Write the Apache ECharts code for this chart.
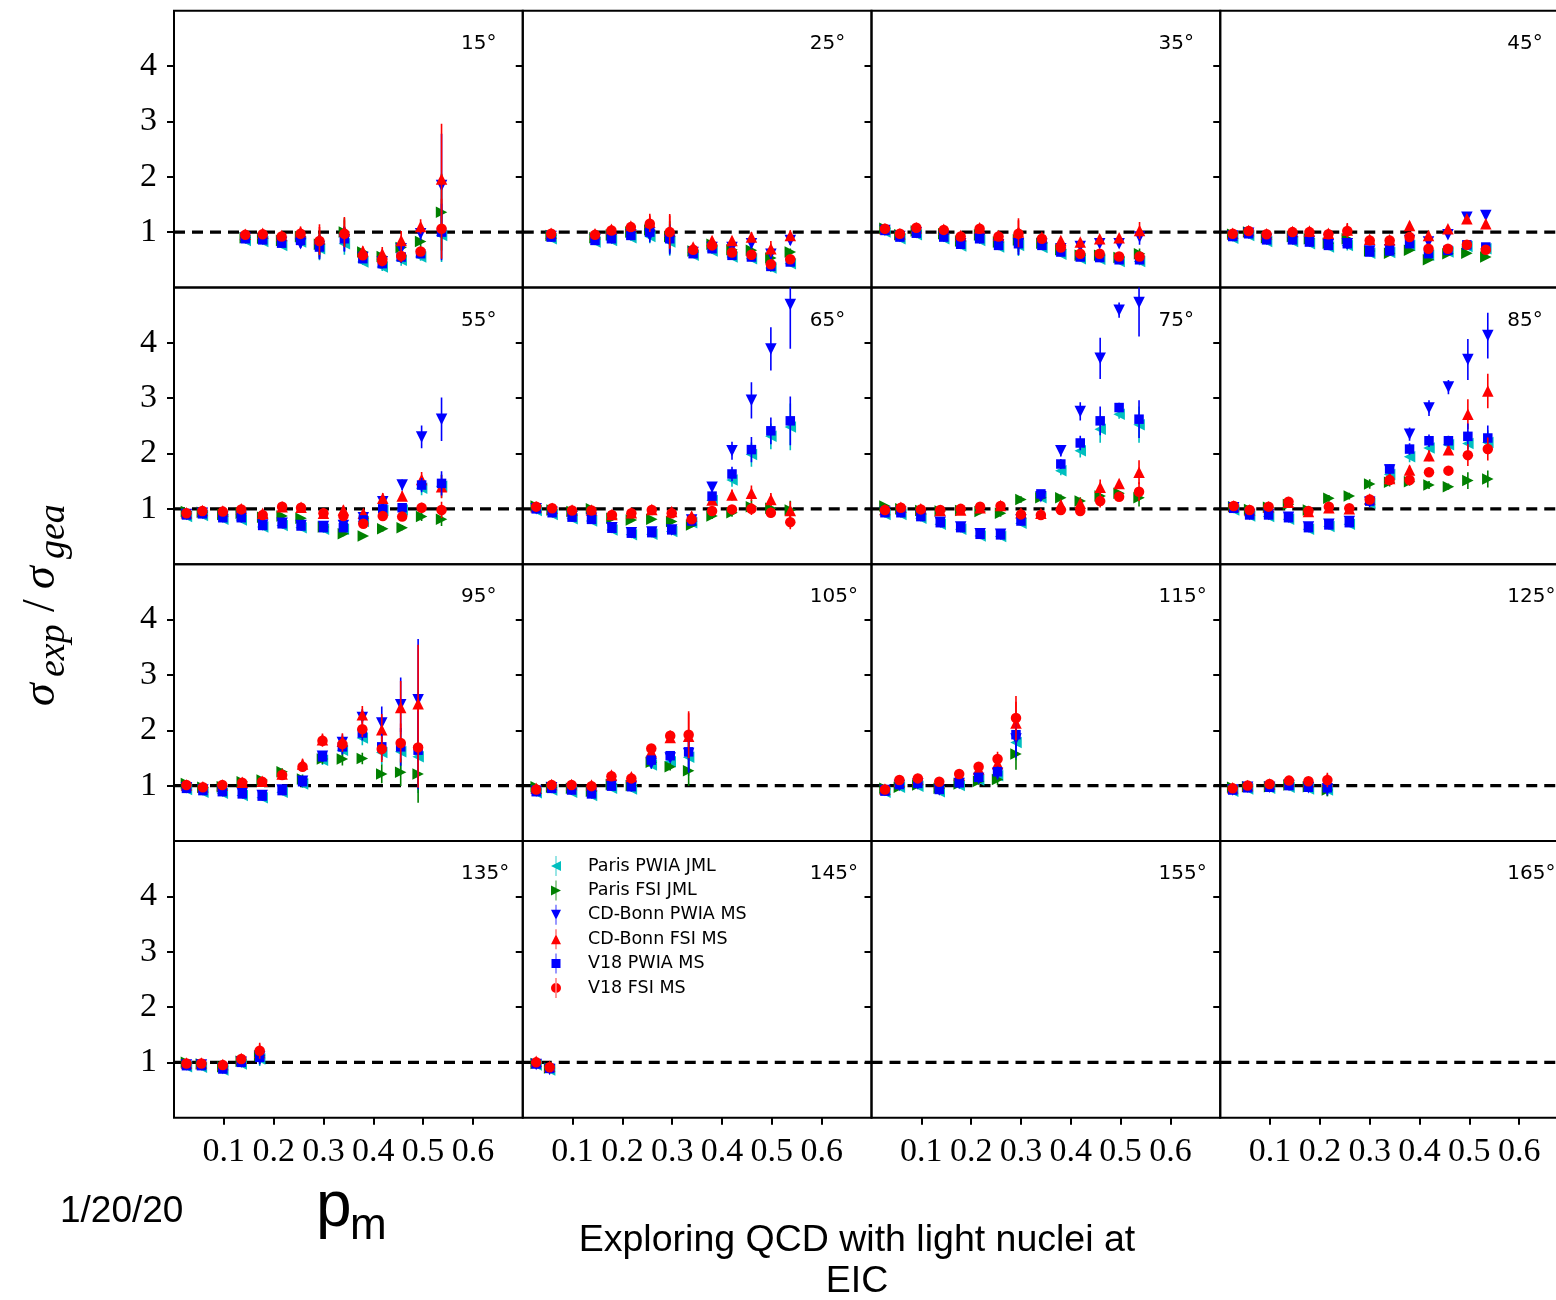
<!DOCTYPE html>
<html><head><meta charset="utf-8">
<script src="https://cdn.jsdelivr.net/npm/echarts@6/dist/echarts.min.js"></script>
<style>html,body{margin:0;padding:0;background:#fff}#c{width:1556px;height:1300px}</style>
</head><body><div id="c"></div>
<script>
// ---------------- DATA ----------------
const ANGLES = ['15°','25°','35°','45°','55°','65°','75°','85°','95°','105°','115°','125°','135°','145°','155°','165°'];
const X_TICKS = [0.1, 0.2, 0.3, 0.4, 0.5, 0.6];
const Y_TICKS = [1, 2, 3, 4];

// missing momentum p_m per panel
const PM = [
  [0.143,0.178,0.216,0.254,0.292,0.342,0.379,0.418,0.456,0.495,0.537],
  [0.057,0.145,0.178,0.217,0.255,0.295,0.342,0.380,0.420,0.459,0.498,0.537],
  [0.027,0.057,0.090,0.145,0.179,0.217,0.255,0.295,0.342,0.380,0.419,0.458,0.497,0.538],
  [0.025,0.057,0.093,0.145,0.179,0.217,0.255,0.300,0.340,0.380,0.418,0.457,0.495,0.533],
  [0.025,0.057,0.098,0.135,0.178,0.217,0.255,0.300,0.340,0.380,0.419,0.458,0.497,0.537],
  [0.027,0.059,0.099,0.138,0.179,0.218,0.259,0.299,0.339,0.380,0.420,0.459,0.498,0.537],
  [0.027,0.059,0.099,0.138,0.179,0.218,0.259,0.300,0.340,0.380,0.419,0.459,0.497,0.537],
  [0.027,0.059,0.097,0.137,0.177,0.218,0.259,0.300,0.340,0.380,0.419,0.458,0.497,0.537],
  [0.025,0.058,0.097,0.137,0.177,0.217,0.258,0.298,0.338,0.378,0.417,0.455,0.490],
  [0.027,0.058,0.098,0.138,0.178,0.218,0.258,0.296,0.333],
  [0.027,0.056,0.093,0.136,0.176,0.215,0.253,0.290],
  [0.025,0.055,0.099,0.138,0.177,0.215],
  [0.025,0.055,0.098,0.135,0.172],
  [0.027,0.054],
  [],
  []
];

const PARIS_PWIA = [
  [0.85,0.83,0.76,0.82,0.70,0.79,0.46,0.37,0.49,0.55,0.94],
  [0.88,0.82,0.85,0.90,0.92,0.82,0.58,0.66,0.55,0.52,0.35,0.43],
  [1.00,0.88,0.95,0.88,0.75,0.85,0.73,0.76,0.72,0.60,0.52,0.51,0.47,0.47],
  [0.89,0.94,0.83,0.83,0.79,0.73,0.76,0.62,0.63,0.76,0.58,0.64,0.74,0.70],
  [0.86,0.88,0.81,0.80,0.67,0.70,0.66,0.63,0.63,0.77,0.97,0.98,1.37,1.41],
  [0.97,0.90,0.82,0.78,0.62,0.53,0.54,0.59,0.75,1.15,1.52,1.98,2.31,2.48],
  [0.90,0.90,0.83,0.72,0.63,0.51,0.50,0.74,1.20,1.69,2.05,2.44,2.71,2.52],
  [0.98,0.87,0.86,0.81,0.63,0.68,0.72,1.10,1.62,1.94,2.10,2.16,2.18,2.20],
  [0.93,0.88,0.86,0.82,0.78,0.88,1.03,1.46,1.64,1.86,1.60,1.61,1.52],
  [0.87,0.92,0.88,0.82,0.95,0.94,1.37,1.43,1.51],
  [0.88,0.97,0.99,0.89,1.00,1.10,1.18,1.78],
  [0.90,0.94,0.95,0.97,0.94,0.92],
  [0.92,0.91,0.86,0.97,1.06],
  [0.95,0.86],
  [],
  []
];

const PARIS_FSI = [
  [0.90,0.89,0.85,0.92,0.78,1.00,0.64,0.56,0.72,0.83,1.36],
  [0.94,0.90,0.95,1.00,1.04,0.92,0.66,0.78,0.68,0.67,0.53,0.64],
  [1.07,0.95,1.02,0.97,0.84,0.95,0.82,0.86,0.80,0.68,0.58,0.58,0.54,0.61],
  [0.96,1.00,0.90,0.92,0.88,0.80,0.88,0.66,0.62,0.67,0.50,0.61,0.62,0.55],
  [0.95,0.94,0.90,0.92,0.85,0.87,0.83,0.67,0.55,0.51,0.64,0.66,0.86,0.81],
  [1.05,0.98,0.95,1.00,0.83,0.80,0.81,0.77,0.71,0.87,0.93,1.04,1.01,0.98],
  [1.05,1.00,0.97,0.96,0.97,0.95,0.92,1.17,1.20,1.20,1.14,1.23,1.28,1.20],
  [1.04,0.99,1.03,1.08,0.98,1.19,1.23,1.45,1.48,1.49,1.43,1.40,1.51,1.54],
  [1.04,0.97,0.98,1.07,1.10,1.25,1.12,1.48,1.48,1.49,1.21,1.24,1.21],
  [0.98,0.97,0.95,0.90,1.02,1.00,1.42,1.34,1.27],
  [0.95,0.97,1.01,0.95,1.03,1.08,1.11,1.57],
  [0.97,0.98,0.98,1.01,0.98,0.92],
  [1.00,0.97,0.92,1.02,1.12],
  [0.98,0.90],
  [],
  []
];

const CDB_PWIA = [
  [0.89,0.87,0.81,0.79,0.74,0.86,0.54,0.46,0.70,0.97,1.84],
  [0.92,0.86,0.89,0.95,0.94,0.85,0.63,0.72,0.72,0.79,0.60,0.85],
  [1.03,0.92,0.99,0.92,0.79,0.89,0.77,0.79,0.78,0.70,0.74,0.79,0.79,0.91],
  [0.93,0.98,0.87,0.87,0.83,0.77,0.79,0.66,0.68,0.85,0.82,0.95,1.27,1.30],
  [0.90,0.92,0.85,0.85,0.71,0.74,0.70,0.68,0.70,0.84,1.13,1.43,2.30,2.62],
  [1.00,0.94,0.86,0.83,0.66,0.57,0.58,0.62,0.80,1.39,2.05,2.96,3.89,4.69],
  [0.94,0.94,0.87,0.76,0.67,0.55,0.54,0.80,1.22,2.05,2.76,3.72,4.59,4.73],
  [1.02,0.90,0.90,0.85,0.67,0.72,0.77,1.12,1.70,2.35,2.82,3.20,3.70,4.13],
  [0.96,0.92,0.90,0.86,0.82,0.92,1.08,1.53,1.78,2.23,2.13,2.46,2.55],
  [0.90,0.96,0.93,0.86,1.00,0.99,1.40,1.50,1.58],
  [0.91,1.00,1.03,0.92,1.04,1.13,1.22,1.84],
  [0.92,0.97,0.97,1.00,0.96,0.94],
  [0.95,0.95,0.89,1.00,1.10],
  [0.96,0.87],
  [],
  []
];

const CDB_FSI = [
  [0.96,0.98,0.94,1.00,0.88,1.02,0.66,0.61,0.85,1.10,1.96],
  [0.98,0.97,1.05,1.11,1.18,1.02,0.73,0.85,0.85,0.91,0.70,0.94],
  [1.06,0.97,1.08,1.05,0.94,1.08,0.94,1.00,0.91,0.85,0.82,0.88,0.90,1.03],
  [0.98,1.03,0.97,1.01,1.02,0.98,1.04,0.87,0.86,1.12,0.94,1.06,1.24,1.15],
  [0.93,0.97,0.96,1.00,0.92,1.04,1.03,0.92,0.98,0.92,1.19,1.23,1.53,1.40],
  [1.04,1.01,0.98,0.98,0.90,0.93,0.99,0.95,0.87,1.16,1.25,1.28,1.17,0.97],
  [0.99,1.03,1.00,0.97,0.98,1.02,1.06,0.93,0.92,1.08,1.10,1.39,1.46,1.66],
  [1.05,0.98,1.04,1.12,0.95,1.02,1.00,1.18,1.55,1.70,1.96,2.07,2.71,3.13],
  [1.01,0.98,1.01,1.06,1.08,1.21,1.39,1.83,1.80,2.28,2.01,2.41,2.48],
  [0.95,1.02,1.02,1.01,1.19,1.16,1.61,1.87,1.89],
  [0.94,1.08,1.12,1.05,1.19,1.30,1.40,2.13],
  [0.96,1.00,1.03,1.08,1.07,1.08],
  [0.99,0.99,0.96,1.07,1.18],
  [1.02,0.93],
  [],
  []
];

const V18_PWIA = [
  [0.88,0.86,0.80,0.85,0.73,0.88,0.52,0.43,0.55,0.61,1.00],
  [0.91,0.85,0.88,0.94,1.00,0.88,0.61,0.70,0.58,0.55,0.38,0.46],
  [1.03,0.91,0.98,0.91,0.78,0.88,0.76,0.79,0.76,0.64,0.55,0.54,0.50,0.50],
  [0.92,0.97,0.86,0.86,0.82,0.76,0.79,0.64,0.66,0.79,0.61,0.67,0.77,0.73],
  [0.89,0.91,0.84,0.84,0.70,0.73,0.69,0.66,0.66,0.80,1.00,1.02,1.43,1.46],
  [1.00,0.93,0.85,0.81,0.65,0.56,0.57,0.62,0.78,1.23,1.63,2.07,2.41,2.59],
  [0.93,0.93,0.86,0.75,0.66,0.54,0.53,0.78,1.27,1.81,2.19,2.59,2.83,2.62],
  [1.01,0.89,0.89,0.84,0.66,0.71,0.75,1.14,1.72,2.08,2.23,2.23,2.31,2.28],
  [0.95,0.91,0.89,0.85,0.81,0.91,1.07,1.52,1.70,1.95,1.70,1.70,1.64],
  [0.89,0.95,0.92,0.85,0.99,0.98,1.46,1.54,1.61],
  [0.90,1.02,1.04,0.93,1.05,1.15,1.25,1.92],
  [0.92,0.96,0.97,1.00,0.97,0.96],
  [0.94,0.94,0.88,1.00,1.09],
  [0.97,0.89],
  [],
  []
];

const V18_FSI = [
  [0.95,0.96,0.92,0.97,0.84,0.97,0.58,0.48,0.57,0.65,1.06],
  [0.97,0.95,1.03,1.09,1.15,1.00,0.68,0.76,0.63,0.59,0.42,0.51],
  [1.06,0.97,1.08,1.04,0.92,1.06,0.92,0.97,0.88,0.72,0.61,0.61,0.56,0.56],
  [0.97,1.02,0.96,1.00,1.00,0.96,1.02,0.85,0.85,0.91,0.70,0.70,0.77,0.68],
  [0.92,0.96,0.95,0.99,0.89,1.04,1.02,0.92,0.87,0.73,0.87,0.86,1.02,0.98],
  [1.04,1.01,0.97,0.97,0.89,0.92,0.98,0.92,0.81,0.96,0.99,1.00,0.93,0.76],
  [0.98,1.02,0.99,0.98,1.00,1.04,1.05,0.90,0.89,0.98,0.96,1.14,1.22,1.31],
  [1.05,0.98,1.04,1.13,0.96,1.04,1.01,1.17,1.52,1.52,1.66,1.69,1.97,2.08],
  [1.01,0.97,1.01,1.05,1.07,1.19,1.34,1.81,1.75,2.02,1.66,1.77,1.69],
  [0.93,1.01,1.01,0.99,1.17,1.13,1.67,1.90,1.92],
  [0.93,1.10,1.13,1.07,1.21,1.34,1.48,2.22],
  [0.95,1.00,1.03,1.09,1.08,1.10],
  [0.98,0.98,0.95,1.06,1.21],
  [1.00,0.91],
  [],
  []
];

// relative experimental uncertainty of each point (error = value * rel)
const REL_ERR = [
  [0.05,0.06,0.06,0.10,0.30,0.25,0.12,0.20,0.20,0.12,0.51],
  [0.04,0.05,0.06,0.06,0.13,0.30,0.06,0.08,0.08,0.10,0.20,0.10],
  [0.03,0.03,0.04,0.04,0.05,0.06,0.06,0.25,0.06,0.06,0.06,0.06,0.06,0.15],
  [0.03,0.03,0.04,0.04,0.05,0.05,0.12,0.05,0.05,0.06,0.06,0.05,0.04,0.05],
  [0.03,0.03,0.04,0.04,0.05,0.05,0.05,0.10,0.08,0.06,0.08,0.07,0.09,0.15],
  [0.03,0.03,0.04,0.04,0.05,0.05,0.05,0.05,0.06,0.06,0.08,0.11,0.10,0.17],
  [0.03,0.04,0.04,0.04,0.05,0.05,0.07,0.05,0.05,0.05,0.06,0.10,0.03,0.13],
  [0.03,0.03,0.04,0.04,0.05,0.05,0.05,0.06,0.05,0.05,0.05,0.04,0.10,0.10],
  [0.03,0.03,0.04,0.04,0.05,0.05,0.07,0.06,0.08,0.07,0.14,0.20,0.43],
  [0.03,0.03,0.04,0.04,0.05,0.05,0.05,0.05,0.22],
  [0.03,0.04,0.04,0.04,0.05,0.06,0.09,0.18],
  [0.03,0.03,0.04,0.04,0.05,0.12],
  [0.03,0.03,0.04,0.05,0.12],
  [0.05,0.06],
  [],
  []
];

// ---------------- STYLE / LAYOUT ----------------
const PW = 348.75, PH = 276.75, LEFT0 = 174, TOP0 = 10.7;
const TRI_LEFT = 'path://M0,5L10,0L10,10Z';
const TRI_RIGHT = 'path://M0,0L10,5L0,10Z';
const TRI_DOWN = 'path://M0,0L10,0L5,10Z';
const TRI_UP = 'path://M5,0L10,10L0,10Z';
const BAR = ' M4.6,0L5.4,0L5.4,20L4.6,20Z';
const SERIES_DEF = [
  {name:'Paris PWIA JML', vals:PARIS_PWIA, color:'#00BFBF', symbol:TRI_LEFT, size:11.5, icon:'path://M0,10L10,5L10,15Z'+BAR},
  {name:'Paris FSI JML', vals:PARIS_FSI, color:'#008000', symbol:TRI_RIGHT, size:11.5, icon:'path://M0,5L10,10L0,15Z'+BAR},
  {name:'CD-Bonn PWIA MS', vals:CDB_PWIA, color:'#0000FF', symbol:TRI_DOWN, size:11.5, icon:'path://M0,5L10,5L5,15Z'+BAR},
  {name:'CD-Bonn FSI MS', vals:CDB_FSI, color:'#FF0000', symbol:TRI_UP, size:11.5, icon:'path://M5,5L10,15L0,15Z'+BAR},
  {name:'V18 PWIA MS', vals:V18_PWIA, color:'#0000FF', symbol:'rect', size:9.5, icon:'path://M0.5,5.5L9.5,5.5L9.5,14.5L0.5,14.5Z'+BAR},
  {name:'V18 FSI MS', vals:V18_FSI, color:'#FF0000', symbol:'circle', size:10.5, icon:'path://M0,10A5,5 0 1 0 10,10A5,5 0 1 0 0,10Z'+BAR}
];

const grids = [], xAxes = [], yAxes = [], series = [], graphics = [];
for (let p = 0; p < 16; p++) {
  const r = Math.floor(p / 4), c = p % 4;
  const left = LEFT0 + c * PW, top = TOP0 + r * PH;
  grids.push({left: left, top: top, width: PW, height: PH, show: true, borderColor: '#000', borderWidth: 2,
    backgroundColor: 'transparent', containLabel: false, outerBoundsMode: 'none'});
  const bottom = r === 3, first = c === 0;
  xAxes.push({gridIndex: p, type: 'value', min: 0, max: 0.7, interval: 0.1,
    splitLine: {show: false}, axisLine: {show: false},
    axisTick: {show: bottom, customValues: X_TICKS, length: 7, lineStyle: {color: '#000', width: 2}},
    axisLabel: {show: bottom, customValues: X_TICKS, margin: 17, color: '#000', fontFamily: 'Liberation Serif', fontSize: 34,
      formatter: v => (v < 0.05 || v > 0.65) ? '' : v.toFixed(1)}});
  yAxes.push({gridIndex: p, type: 'value', min: 0, max: 5, interval: 1,
    splitLine: {show: false}, axisLine: {show: false},
    axisTick: {show: true, customValues: Y_TICKS, length: 7, lineStyle: {color: '#000', width: 2}},
    axisLabel: {show: first, customValues: Y_TICKS, margin: 17, color: '#000', fontFamily: 'Liberation Serif', fontSize: 34,
      formatter: v => (v < 0.5 || v > 4.5) ? '' : String(v)}});
  // reference line at ratio 1
  series.push({type: 'line', xAxisIndex: p, yAxisIndex: p, data: [[0, 1], [0.7, 1]], symbol: 'none', silent: true,
    lineStyle: {color: '#000', width: 3.2, type: [11, 7]}, z: 3, animation: false});
  const pm = PM[p];
  SERIES_DEF.forEach((s, k) => {
    if (!pm.length) return;
    const vals = s.vals[p];
    series.push({type: 'scatter', name: s.name, xAxisIndex: p, yAxisIndex: p,
      data: pm.map((x, i) => [x, vals[i]]), symbol: s.symbol, symbolSize: s.size,
      itemStyle: {color: s.color, opacity: 1}, clip: true, silent: true, z: 11 + 2 * k, animation: false});
    series.push({type: 'custom', name: s.name, xAxisIndex: p, yAxisIndex: p, clip: true, silent: true, z: 10 + 2 * k,
      data: pm.map((x, i) => [x, vals[i], vals[i] * REL_ERR[p][i]]),
      encode: {x: 0, y: 1},
      renderItem: (params, api) => {
        const x = api.value(0), y = api.value(1), e = api.value(2);
        const a = api.coord([x, y - e]), b = api.coord([x, y + e]);
        return {type: 'line', shape: {x1: a[0], y1: a[1], x2: b[0], y2: b[1]}, style: {stroke: s.color, lineWidth: 1.6}};
      }, animation: false});
  });
  graphics.push({type: 'text', x: left + 287, y: top + 33, silent: true,
    style: {text: ANGLES[p], fontFamily: 'DejaVu Sans', fontSize: 20, fill: '#000', align: 'left', verticalAlign: 'middle'}});
}

// y-axis title (rotated), bottom annotations
const SERIF_I = {fontFamily: 'Liberation Serif', fontStyle: 'italic', fill: '#000', align: 'left', verticalAlign: 'middle'};
graphics.push({type: 'group', x: 42, y: 605, rotation: Math.PI / 2, silent: true, children: [
  {type: 'text', x: -101, y: 0, style: Object.assign({text: 'σ', fontSize: 46}, SERIF_I)},
  {type: 'text', x: -72, y: 12, style: Object.assign({text: 'exp', fontSize: 38}, SERIF_I)},
  {type: 'text', x: -7, y: 0, style: {text: '/', fontFamily: 'Liberation Serif', fontSize: 46, fill: '#000', align: 'left', verticalAlign: 'middle'}},
  {type: 'text', x: 16, y: 0, style: Object.assign({text: 'σ', fontSize: 46}, SERIF_I)},
  {type: 'text', x: 46, y: 12, style: Object.assign({text: 'gea', fontSize: 38}, SERIF_I)}
]});
graphics.push({type: 'text', x: 60, y: 1212, silent: true, style: {text: '1/20/20', fontFamily: 'Liberation Sans', fontSize: 37, fill: '#000', align: 'left', verticalAlign: 'middle'}});
graphics.push({type: 'text', x: 316, y: 1208, silent: true, style: {text: 'p', fontFamily: 'Liberation Sans', fontSize: 64, fill: '#000', align: 'left', verticalAlign: 'middle'}});
graphics.push({type: 'text', x: 350, y: 1227, silent: true, style: {text: 'm', fontFamily: 'Liberation Sans', fontSize: 44, fill: '#000', align: 'left', verticalAlign: 'middle'}});
graphics.push({type: 'text', x: 857, y: 1241, silent: true, style: {text: 'Exploring QCD with light nuclei at', fontFamily: 'Liberation Sans', fontSize: 37.5, fill: '#000', align: 'center', verticalAlign: 'middle'}});
graphics.push({type: 'text', x: 857, y: 1282, silent: true, style: {text: 'EIC', fontFamily: 'Liberation Sans', fontSize: 37.5, fill: '#000', align: 'center', verticalAlign: 'middle'}});

const option = {
  animation: false,
  backgroundColor: '#fff',
  grid: grids, xAxis: xAxes, yAxis: yAxes, series: series,
  legend: {
    data: SERIES_DEF.map(s => ({name: s.name, icon: s.icon})),
    orient: 'vertical', left: 546, top: 851, padding: 5,
    itemWidth: 10, itemHeight: 20, itemGap: 4.4, selectedMode: false,
    textStyle: {fontFamily: 'DejaVu Sans', fontSize: 17.5, color: '#000', padding: [0, 0, 0, 22]}
  },
  graphic: {elements: graphics}
};
const chart = echarts.init(document.getElementById('c'), null, {renderer: 'canvas', width: 1556, height: 1300});
chart.setOption(option);
</script>
</body></html>
